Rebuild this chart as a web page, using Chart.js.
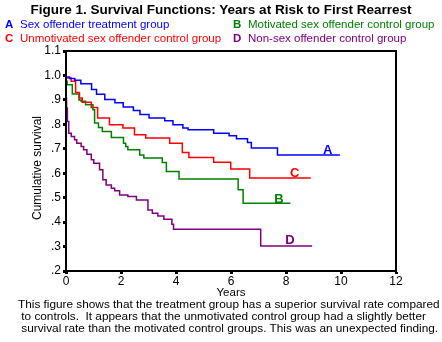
<!DOCTYPE html>
<html>
<head>
<meta charset="UTF-8">
<script src="https://cdn.jsdelivr.net/npm/chart.js@4"></script>
<style>
  body { margin: 0; width: 442px; height: 342px; background: #fff; position: relative; overflow: hidden; font-family: "Liberation Sans", sans-serif; }
  #chart { position: absolute; left: 0; top: 0; }
  .title { position: absolute; top: 2px; left: 0; width: 442px; text-align: center; font: bold 13.5px "Liberation Sans", sans-serif; }
  .leg { position: absolute; font: 11.5px "Liberation Sans", sans-serif; white-space: nowrap; }
  .leg b { display: inline-block; width: 15px; }
  .cap { position: absolute; left: 18px; top: 298px; font: 11.8px "Liberation Sans", sans-serif; line-height: 12px; white-space: nowrap; }
</style>
</head>
<body>
<canvas id="chart" width="442" height="342"></canvas>
<div class="title">Figure 1. Survival Functions: Years at Risk to First Rearrest</div>
<div class="leg" style="left:5px;top:18px;color:#0000ff"><b>A</b>Sex offender treatment group</div>
<div class="leg" style="left:233px;top:18px;color:#008000"><b>B</b>Motivated sex offender control group</div>
<div class="leg" style="left:5px;top:32px;color:#ff0000"><b>C</b>Unmotivated sex offender control group</div>
<div class="leg" style="left:233px;top:32px;color:#800080"><b>D</b>Non-sex offender control group</div>
<div class="cap">This figure shows that the treatment group has a superior survival rate compared<br>&nbsp;to controls.&nbsp; It appears that the unmotivated control group had a slightly better<br>&nbsp;survival rate than the motivated control groups. This was an unexpected finding.</div>
<script>
const yearsA = [0, 0.13, 0.32, 0.54, 0.93, 1.11, 1.41, 1.78, 2.08, 2.45, 2.69, 3.02, 3.59, 3.89, 4.25, 4.44, 5.37, 5.93, 6.2, 6.6, 6.74, 7.69, 9.96];
const survA = [0.994, 0.988, 0.98, 0.966, 0.943, 0.923, 0.902, 0.888, 0.871, 0.857, 0.84, 0.826, 0.815, 0.798, 0.785, 0.778, 0.764, 0.753, 0.741, 0.726, 0.703, 0.675, 0.675];

const yearsB = [0, 0.04, 0.23, 0.47, 0.55, 0.71, 0.98, 1.04, 1.18, 1.32, 1.65, 2.09, 2.17, 2.25, 2.68, 2.83, 3.5, 3.65, 4.11, 6.26, 6.44, 8.16];
const survB = [0.976, 0.962, 0.924, 0.9, 0.894, 0.88, 0.86, 0.805, 0.787, 0.771, 0.746, 0.723, 0.709, 0.696, 0.675, 0.662, 0.644, 0.607, 0.576, 0.532, 0.477, 0.477];

const yearsC = [0, 0.19, 0.35, 0.49, 0.59, 0.92, 1.15, 1.58, 2.07, 2.49, 2.9, 3.77, 4.23, 4.47, 5.37, 5.99, 6.68, 8.9];
const survC = [0.99, 0.976, 0.93, 0.908, 0.89, 0.869, 0.826, 0.798, 0.785, 0.757, 0.744, 0.723, 0.685, 0.664, 0.645, 0.617, 0.58, 0.58];

const yearsD = [0, 0.02, 0.05, 0.1, 0.19, 0.31, 0.39, 0.55, 0.64, 0.76, 0.92, 1.01, 1.22, 1.34, 1.46, 1.65, 1.77, 1.95, 2.25, 2.56, 2.98, 3.14, 3.34, 3.56, 3.85, 3.91, 7.08, 8.95];
const survD = [0.908, 0.867, 0.812, 0.764, 0.75, 0.737, 0.723, 0.709, 0.696, 0.678, 0.655, 0.641, 0.614, 0.573, 0.552, 0.539, 0.528, 0.511, 0.505, 0.49, 0.45, 0.436, 0.425, 0.412, 0.391, 0.371, 0.302, 0.302];

// curve end labels (letter, years, survival)
const endLabels = [["A", 9.52, 0.695], ["C", 8.32, 0.60], ["B", 7.74, 0.494], ["D", 8.14, 0.325]];

const xTicks = [0, 2, 4, 6, 8, 10, 12];

const colors = { A: "#0000ff", B: "#008000", C: "#ff0000", D: "#800080" };

const pts = (xs, ys) => xs.map((x, i) => ({ x: x, y: ys[i] }));

const series = (key, xs, ys) => ({
  label: key,
  data: pts(xs, ys),
  borderColor: colors[key],
  borderWidth: 1.5,
  stepped: "before",
  pointRadius: 0,
  fill: false,
});

const frame = {
  id: "frame",
  afterDraw(chart) {
    const { ctx, chartArea: a, scales } = chart;
    ctx.save();
    ctx.strokeStyle = "#000";
    ctx.lineWidth = 2;
    ctx.strokeRect(a.left, a.top, a.right - a.left, a.bottom - a.top);
    ctx.font = "bold 13px 'Liberation Sans', sans-serif";
    ctx.textAlign = "center";
    ctx.textBaseline = "middle";
    endLabels.forEach(([k, x, y]) => {
      ctx.fillStyle = colors[k];
      ctx.fillText(k, scales.x.getPixelForValue(x), scales.y.getPixelForValue(y));
    });
    // y axis title, sits a little below the middle as in the original
    ctx.fillStyle = "#000";
    ctx.font = "12px 'Liberation Sans', sans-serif";
    ctx.translate(38, 168);
    ctx.rotate(-Math.PI / 2);
    ctx.fillText("Cumulative survival", 0, 0);
    ctx.restore();
  },
};

const tickFont = { size: 12, family: "Liberation Sans" };

new Chart(document.getElementById("chart"), {
  type: "line",
  data: {
    datasets: [
      series("A", yearsA, survA),
      series("C", yearsC, survC),
      series("B", yearsB, survB),
      series("D", yearsD, survD),
    ],
  },
  options: {
    responsive: false,
    animation: false,
    layout: { padding: { left: 28, top: 51, right: 46, bottom: 42 } },
    plugins: { legend: { display: false }, tooltip: { enabled: false } },
    scales: {
      x: {
        type: "linear",
        min: 0,
        max: 12,
        afterBuildTicks: (s) => { s.ticks = xTicks.map((v) => ({ value: v })); },
        afterFit: (s) => { s.height = 29; },
        grid: { drawOnChartArea: false, tickLength: 3, tickWidth: 3, color: "#000" },
        border: { color: "#000", width: 2 },
        ticks: { color: "#000", font: tickFont, padding: 0, maxRotation: 0 },
        title: { display: true, text: "Years", color: "#000", font: { size: 11.5, family: "Liberation Sans" }, padding: { top: 2, bottom: 0 } },
      },
      y: {
        min: 0.2,
        max: 1.1,
        afterFit: (s) => { s.width = 38; },
        grid: { drawOnChartArea: false, tickLength: 3, tickWidth: 3, color: "#000" },
        border: { color: "#000", width: 2 },
        ticks: {
          stepSize: 0.1,
          color: "#000",
          padding: 2,
          font: tickFont,
          callback: (v) => v.toFixed(1).replace(/^0/, ""),
        },
      },
    },
  },
  plugins: [frame],
});
</script>
</body>
</html>
